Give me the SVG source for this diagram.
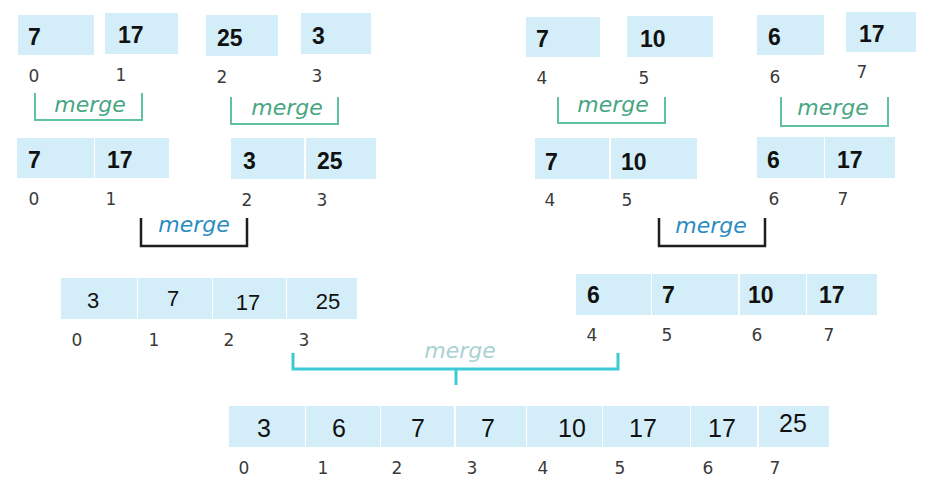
<svg xmlns="http://www.w3.org/2000/svg" width="931" height="487" viewBox="0 0 931 487">
<style>
.box{fill:#d4eef9}
.b{font-family:"Liberation Sans",Arial,sans-serif;font-weight:bold;font-size:23px;fill:#111}
.n{font-family:"Liberation Sans",Arial,sans-serif;font-size:22px;fill:#111;text-anchor:middle}
.n2{font-family:"Liberation Sans",Arial,sans-serif;font-size:25px;fill:#111;text-anchor:middle}
.i{font-family:"DejaVu Sans",sans-serif;font-size:17px;fill:#3a3a3a;text-anchor:middle}
.mg{font-family:"DejaVu Sans",sans-serif;font-style:italic;font-size:22px;fill:#48a683;text-anchor:middle}
.mb{font-family:"DejaVu Sans",sans-serif;font-style:italic;font-size:22px;fill:#2b8dbf;text-anchor:middle}
.ml{font-family:"DejaVu Sans",sans-serif;font-style:italic;font-size:22px;fill:#a9d2d1;text-anchor:middle}
.cg{fill:none;stroke:#5fc29c;stroke-width:2}
.ck{fill:none;stroke:#1e1e1e;stroke-width:2.5}
.cc{fill:none;stroke:#3ccbd6;stroke-width:3}
</style>
<!-- Level 1 -->
<g id="n1-0"><rect class="box" x="18" y="15" width="76" height="40"/><text class="b" x="28" y="45">7</text><text class="i" x="34" y="82">0</text></g>
<g id="n1-1"><rect class="box" x="105" y="13" width="73" height="41"/><text class="b" x="118" y="43">17</text><text class="i" x="121" y="81">1</text></g>
<g id="n1-2"><rect class="box" x="206" y="15" width="72" height="41"/><text class="b" x="217" y="46">25</text><text class="i" x="222" y="83">2</text></g>
<g id="n1-3"><rect class="box" x="301" y="13" width="70" height="41"/><text class="b" x="312" y="44">3</text><text class="i" x="317" y="82">3</text></g>
<g id="n1-4"><rect class="box" x="526" y="17" width="74" height="40"/><text class="b" x="536" y="47">7</text><text class="i" x="542" y="84">4</text></g>
<g id="n1-5"><rect class="box" x="627" y="16" width="86" height="41"/><text class="b" x="640" y="47">10</text><text class="i" x="644" y="84">5</text></g>
<g id="n1-6"><rect class="box" x="757" y="15" width="67" height="40"/><text class="b" x="768" y="45">6</text><text class="i" x="775" y="83">6</text></g>
<g id="n1-7"><rect class="box" x="846" y="12" width="70" height="40"/><text class="b" x="859" y="42">17</text><text class="i" x="862" y="78">7</text></g>
<!-- Level 2 -->
<g id="n2-01"><rect class="box" x="17" y="138" width="77" height="40"/><rect class="box" x="95" y="138" width="74" height="40"/><text class="b" x="28" y="168">7</text><text class="b" x="107" y="168">17</text><text class="i" x="34" y="205">0</text><text class="i" x="111" y="205">1</text></g>
<g id="n2-23"><rect class="box" x="231" y="138" width="73" height="41"/><rect class="box" x="306" y="138" width="70" height="41"/><text class="b" x="243" y="169">3</text><text class="b" x="317" y="169">25</text><text class="i" x="247" y="206">2</text><text class="i" x="322" y="206">3</text></g>
<g id="n2-45"><rect class="box" x="535" y="138" width="74" height="41"/><rect class="box" x="611" y="138" width="86" height="41"/><text class="b" x="545" y="170">7</text><text class="b" x="621" y="170">10</text><text class="i" x="550" y="206">4</text><text class="i" x="627" y="206">5</text></g>
<g id="n2-67"><rect class="box" x="757" y="137" width="67" height="41"/><rect class="box" x="825" y="137" width="70" height="41"/><text class="b" x="767" y="168">6</text><text class="b" x="837" y="168">17</text><text class="i" x="774" y="205">6</text><text class="i" x="843" y="205">7</text></g>
<!-- Level 3 -->
<g id="n3-left"><rect class="box" x="61" y="278" width="76" height="41"/><rect class="box" x="138" y="278" width="74" height="41"/><rect class="box" x="213" y="278" width="73" height="41"/><rect class="box" x="287" y="278" width="70" height="41"/>
<text class="n" x="93" y="308">3</text><text class="n" x="173" y="306">7</text><text class="n" x="248" y="310">17</text><text class="n" x="328" y="309">25</text>
<text class="i" x="77" y="346">0</text><text class="i" x="154" y="346">1</text><text class="i" x="229" y="346">2</text><text class="i" x="304" y="346">3</text></g>
<g id="n3-right"><rect class="box" x="576" y="274" width="75" height="41"/><rect class="box" x="652" y="274" width="86" height="41"/><rect class="box" x="740" y="274" width="66" height="41"/><rect class="box" x="807" y="274" width="70" height="41"/>
<text class="b" x="587" y="303">6</text><text class="b" x="662" y="303">7</text><text class="b" x="748" y="303">10</text><text class="b" x="819" y="303">17</text>
<text class="i" x="592" y="341">4</text><text class="i" x="667" y="341">5</text><text class="i" x="757" y="341">6</text><text class="i" x="829" y="341">7</text></g>
<!-- Level 4 -->
<g id="n4"><rect class="box" x="229" y="406" width="76" height="41"/><rect class="box" x="306" y="406" width="74" height="41"/><rect class="box" x="381" y="406" width="73" height="41"/><rect class="box" x="456" y="406" width="70" height="41"/><rect class="box" x="527" y="406" width="75" height="41"/><rect class="box" x="603" y="406" width="87" height="41"/><rect class="box" x="691" y="406" width="66" height="41"/><rect class="box" x="759" y="406" width="70" height="41"/>
<text class="n2" x="264" y="437">3</text><text class="n2" x="339" y="437">6</text><text class="n2" x="418" y="437">7</text><text class="n2" x="488" y="437">7</text><text class="n2" x="572" y="437">10</text><text class="n2" x="643" y="437">17</text><text class="n2" x="722" y="437">17</text><text class="n2" x="793" y="432">25</text>
<text class="i" x="244" y="474">0</text><text class="i" x="323" y="474">1</text><text class="i" x="397" y="474">2</text><text class="i" x="472" y="474">3</text><text class="i" x="543" y="474">4</text><text class="i" x="620" y="474">5</text><text class="i" x="708" y="474">6</text><text class="i" x="775" y="474">7</text></g>
<!-- Connectors -->
<g id="connectors">
<path class="cg" d="M35 93V120H142V93"/><text class="mg" x="90" y="112">merge</text>
<path class="cg" d="M231 97V124H338V97"/><text class="mg" x="287" y="115">merge</text>
<path class="cg" d="M558 97V123H665V97"/><text class="mg" x="613" y="112">merge</text>
<path class="cg" d="M781 97V126H888V97"/><text class="mg" x="833" y="115">merge</text>
<path class="ck" d="M141 218V246H247V218"/><text class="mb" x="194" y="232">merge</text>
<path class="ck" d="M659 218V246H765V218"/><text class="mb" x="711" y="233">merge</text>
<path class="cc" d="M293 353V369H618V353M456 369V385"/><text class="ml" x="460" y="358">merge</text>
</g>
</svg>
